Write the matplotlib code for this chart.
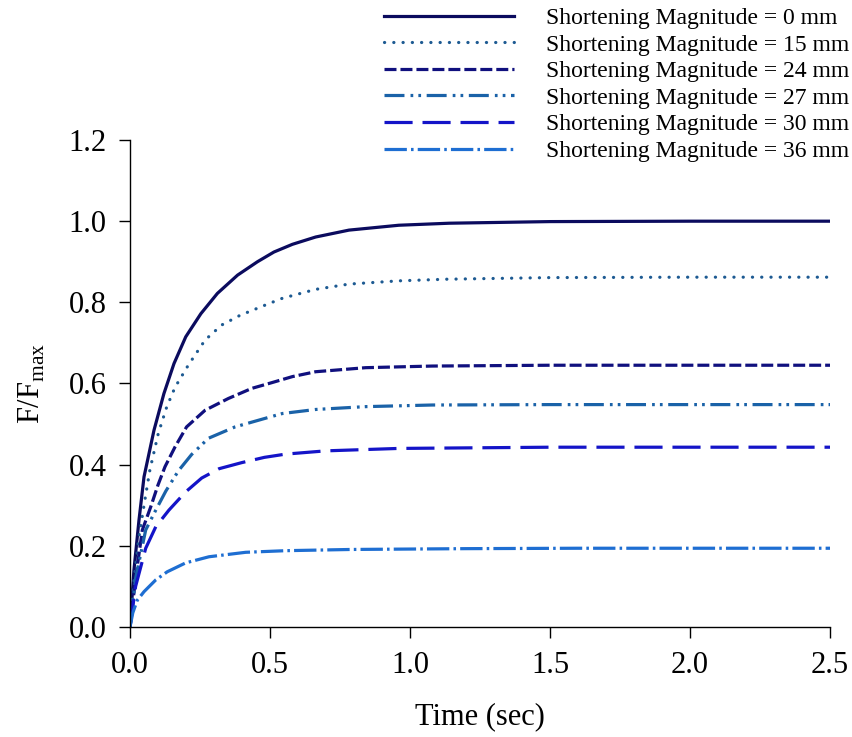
import matplotlib
matplotlib.use("Agg")
import matplotlib.pyplot as plt

plt.rcParams["font.family"] = ["Liberation Serif", "DejaVu Serif"]
plt.rcParams["mathtext.fontset"] = "custom"
plt.rcParams["mathtext.rm"] = "Liberation Serif"

# values (time in sec, F/Fmax)
t_0mm = [0, 0.014, 0.032, 0.05, 0.0857, 0.121, 0.157, 0.199, 0.253, 0.312, 0.384, 0.455,
         0.514, 0.58, 0.663, 0.782, 0.96, 1.14, 1.5, 2.0, 2.5]
f_0mm = [0, 0.14, 0.263, 0.37, 0.485, 0.575, 0.649, 0.715, 0.772, 0.822, 0.867, 0.9,
         0.924, 0.943, 0.961, 0.978, 0.99, 0.995, 0.999, 1.0, 1.0]

t_15mm = [0, 0.015, 0.032, 0.05, 0.071, 0.101, 0.131, 0.161, 0.208, 0.268, 0.327, 0.393,
          0.482, 0.544, 0.663, 0.782, 0.96, 1.13, 1.5, 2.0, 2.5]
f_15mm = [0, 0.12, 0.222, 0.3, 0.387, 0.477, 0.542, 0.591, 0.645, 0.707, 0.744, 0.768,
          0.793, 0.81, 0.832, 0.845, 0.853, 0.857, 0.861, 0.862, 0.862]

t_24mm = [0, 0.02, 0.044, 0.074, 0.1, 0.125, 0.161, 0.202, 0.268, 0.351, 0.435, 0.506,
          0.58, 0.663, 0.842, 1.08, 1.5, 2.0, 2.5]
f_24mm = [0, 0.12, 0.239, 0.296, 0.35, 0.395, 0.444, 0.493, 0.534, 0.563, 0.588, 0.602,
          0.617, 0.629, 0.639, 0.643, 0.645, 0.645, 0.645]

t_27mm = [0, 0.02, 0.056, 0.092, 0.128, 0.173, 0.22, 0.28, 0.375, 0.482, 0.544, 0.663,
          0.842, 1.08, 1.5, 2.0, 2.5]
f_27mm = [0, 0.12, 0.239, 0.288, 0.335, 0.385, 0.425, 0.465, 0.493, 0.514, 0.526, 0.536,
          0.543, 0.547, 0.548, 0.548, 0.548]

t_30mm = [0, 0.02, 0.056, 0.092, 0.139, 0.199, 0.256, 0.318, 0.399, 0.48, 0.556, 0.699,
          0.96, 1.5, 2.0, 2.5]
f_30mm = [0, 0.1, 0.194, 0.247, 0.288, 0.333, 0.367, 0.39, 0.405, 0.418, 0.426, 0.434,
          0.44, 0.443, 0.443, 0.443]

t_36mm = [0, 0.01, 0.026, 0.05, 0.092, 0.133, 0.199, 0.282, 0.413, 0.556, 0.79, 1.2,
          1.6, 2.0, 2.5]
f_36mm = [0, 0.035, 0.066, 0.087, 0.116, 0.136, 0.158, 0.173, 0.184, 0.188, 0.191, 0.193,
          0.194, 0.194, 0.194]

labels = ["Shortening Magnitude = 0 mm", "Shortening Magnitude = 15 mm",
          "Shortening Magnitude = 24 mm", "Shortening Magnitude = 27 mm",
          "Shortening Magnitude = 30 mm", "Shortening Magnitude = 36 mm"]
xticks = [0.0, 0.5, 1.0, 1.5, 2.0, 2.5]
yticks = [0.0, 0.2, 0.4, 0.6, 0.8, 1.0, 1.2]

series = [(t_0mm, f_0mm), (t_15mm, f_15mm), (t_24mm, f_24mm),
          (t_27mm, f_27mm), (t_30mm, f_30mm), (t_36mm, f_36mm)]
colors = ["#0b0b5e", "#1d5a92", "#10107e", "#1a62a8", "#1414c8", "#1e6ed2"]
styles = ["-", (0, (0.05, 2.85)), (0, (3.75, 1.25)),
          (0, (6.25, 1.9, 0.85, 1.6, 0.85, 1.75)), (0, (8.8, 3.1)),
          (0, (7, 1.3, 0.8, 1.3))]
caps = ["butt", "round", "butt", "butt", "butt", "butt"]

fig = plt.figure(figsize=(8.52, 7.37), dpi=100)
ax = fig.add_axes([0.1526, 0.1493, 0.8216, 0.6607])

lines = []
for (t, f), c, ls, cap in zip(series, colors, styles, caps):
    ln, = ax.plot(t, f, color=c, ls=ls, lw=2.3, dash_capstyle=cap,
                  solid_joinstyle="round")
    lines.append(ln)

ax.set_xlim(0, 2.5)
ax.set_ylim(0, 1.2)
ax.set_xticks(xticks)
ax.set_xticklabels([f"{v:.1f}" for v in xticks])
ax.set_yticks(yticks)
ax.set_yticklabels([f"{v:.1f}" for v in yticks])
ax.tick_params(direction="out", length=8, width=1, labelsize=22, pad=9)
for s in ["top", "right"]:
    ax.spines[s].set_visible(False)
ax.spines["left"].set_linewidth(1)
ax.spines["bottom"].set_linewidth(1)

ax.set_xlabel("Time (sec)", fontsize=22, labelpad=16)
ax.set_ylabel(r"F/F$_{\mathrm{max}}$", fontsize=22, labelpad=15)

fig.legend(lines, labels, loc="upper right", bbox_to_anchor=(849 / 852, 0.990),
           frameon=False, fontsize=17, handlelength=5.5, handletextpad=1.36,
           labelspacing=0.215, borderpad=0, borderaxespad=0)

fig.savefig("out.png", dpi=100)
